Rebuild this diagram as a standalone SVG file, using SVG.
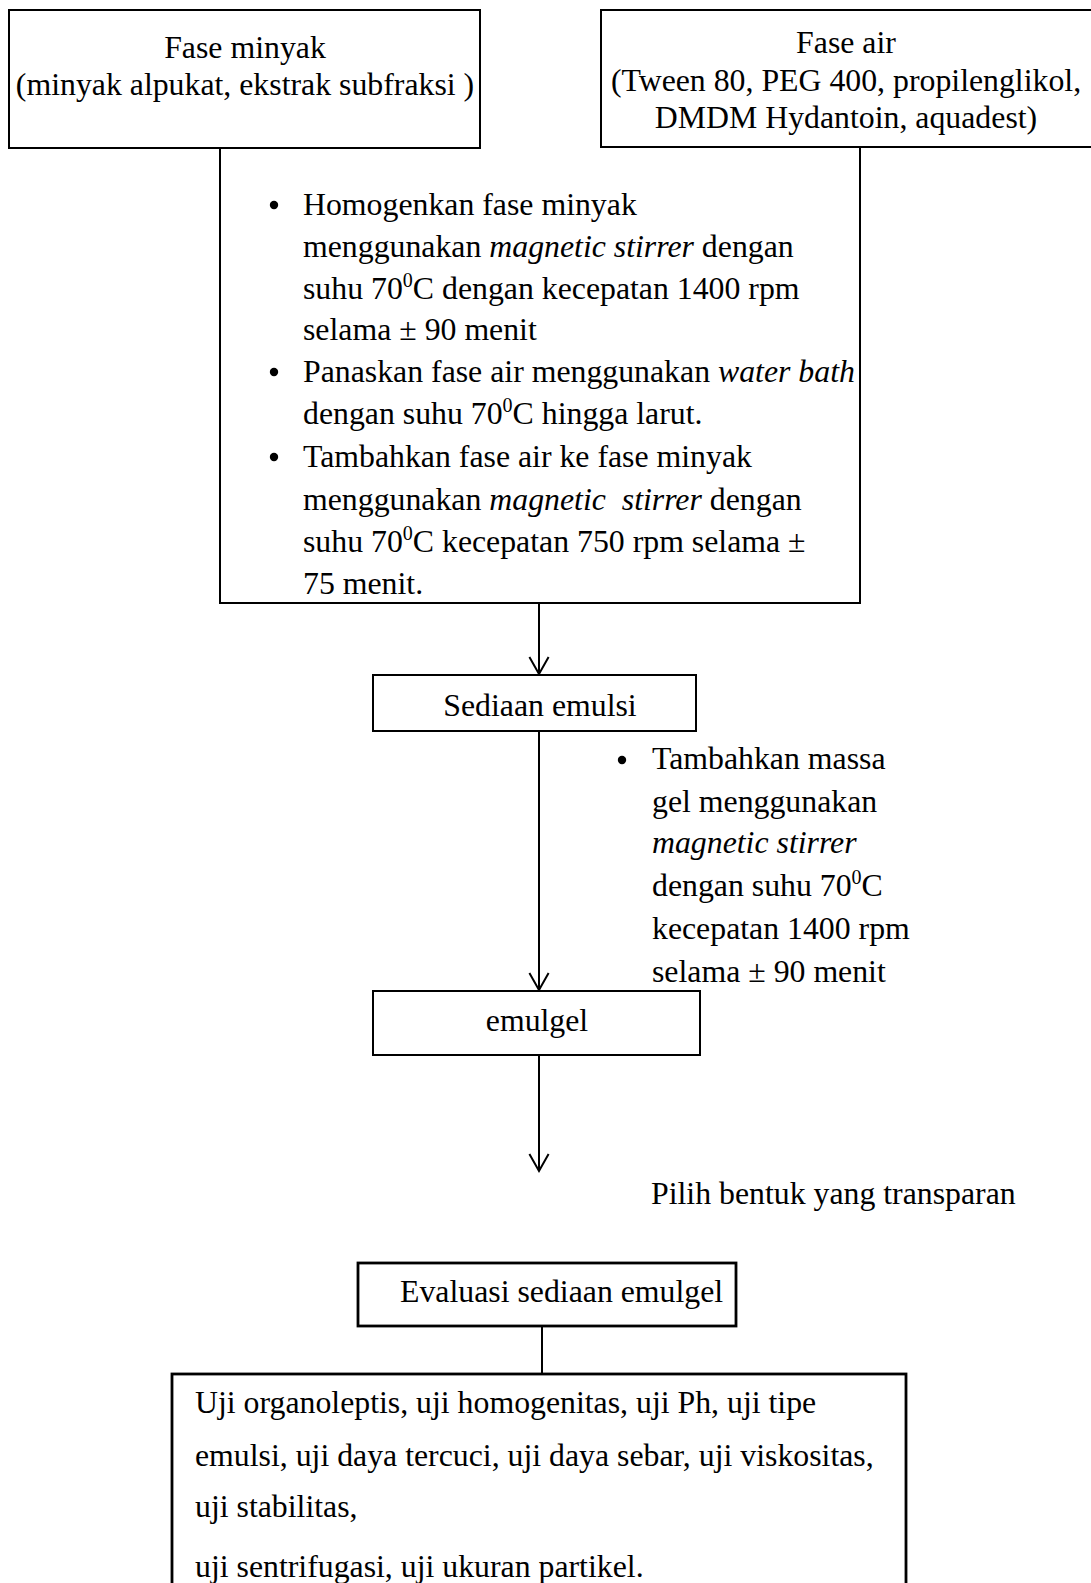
<svg xmlns="http://www.w3.org/2000/svg" width="1091" height="1583" viewBox="0 0 1091 1583">
  <style>
    text { font-family: "Liberation Serif", "Times New Roman", serif; font-size: 31.8px; fill: #000; }
    .c { text-anchor: middle; }
    .i { font-style: italic; }
    .box { fill: #fff; stroke: #000; stroke-width: 2; }
    .thick { stroke-width: 2.8; }
    .ln { fill: none; stroke: #000; stroke-width: 2; }
    .sup { font-size: 20px; }
  </style>
  <defs>
    <marker id="vhead" markerUnits="userSpaceOnUse" viewBox="-20 -12 22 24" markerWidth="22" markerHeight="24" refX="0" refY="0" orient="auto" overflow="visible">
      <path d="M-17,-9.6 L0,0 L-17,9.6" fill="none" stroke="#000" stroke-width="2"/>
    </marker>
  </defs>
  <rect width="1091" height="1583" fill="#fff"/>

  <!-- connectors -->
  <g id="connectors">
    <!-- process frame hanging under the two phase boxes -->
    <path class="ln" d="M220,148 V603 H860 V147" stroke-width="1.8"/>
    <line class="ln" x1="539" y1="603" x2="539" y2="674" marker-end="url(#vhead)"/>
    <line class="ln" x1="539" y1="731" x2="539" y2="990" marker-end="url(#vhead)"/>
    <line class="ln" x1="539" y1="1055" x2="539" y2="1171" marker-end="url(#vhead)"/>
    <line class="ln" x1="542" y1="1326" x2="542" y2="1374" stroke-width="1.5"/>
  </g>

  <g id="fase-minyak">
    <rect class="box" x="9" y="10" width="471" height="138"/>
    <text class="c" x="245" y="58">Fase minyak</text>
    <text class="c" x="245" y="95">(minyak alpukat, ekstrak subfraksi )</text>
  </g>

  <g id="fase-air">
    <rect class="box" x="601" y="10" width="500" height="137"/>
    <text class="c" x="846" y="53">Fase air</text>
    <text class="c" x="846" y="91">(Tween 80, PEG 400, propilenglikol,</text>
    <text class="c" x="846" y="128">DMDM Hydantoin, aquadest)</text>
  </g>

  <g id="langkah-pencampuran">
    <circle cx="274" cy="205" r="4.2"/>
    <circle cx="274" cy="372" r="4.2"/>
    <circle cx="274" cy="457" r="4.2"/>
    <text x="303" y="215">Homogenkan fase minyak</text>
    <text x="303" y="257">menggunakan <tspan class="i">magnetic stirrer</tspan> dengan</text>
    <text x="303" y="299">suhu 70<tspan class="sup" dy="-12">0</tspan><tspan dy="12">C dengan kecepatan 1400 rpm</tspan></text>
    <text x="303" y="340">selama ± 90 menit</text>
    <text x="303" y="382">Panaskan fase air menggunakan <tspan class="i">water bath</tspan></text>
    <text x="303" y="424">dengan suhu 70<tspan class="sup" dy="-12">0</tspan><tspan dy="12">C hingga larut.</tspan></text>
    <text x="303" y="467">Tambahkan fase air ke fase minyak</text>
    <text x="303" y="510">menggunakan <tspan class="i">magnetic&#160; stirrer</tspan> dengan</text>
    <text x="303" y="552">suhu 70<tspan class="sup" dy="-12">0</tspan><tspan dy="12">C kecepatan 750 rpm selama ±</tspan></text>
    <text x="303" y="594">75 menit.</text>
  </g>

  <g id="sediaan-emulsi">
    <rect class="box" x="373" y="675" width="323" height="56"/>
    <text class="c" x="540" y="716">Sediaan emulsi</text>
  </g>

  <g id="langkah-gel">
    <circle cx="622" cy="760" r="4.2"/>
    <text x="652" y="769">Tambahkan massa</text>
    <text x="652" y="812">gel menggunakan</text>
    <text x="652" y="853" class="i">magnetic stirrer</text>
    <text x="652" y="896">dengan suhu 70<tspan class="sup" dy="-12">0</tspan><tspan dy="12">C</tspan></text>
    <text x="652" y="939">kecepatan 1400 rpm</text>
    <text x="652" y="982">selama ± 90 menit</text>
  </g>

  <g id="emulgel">
    <rect class="box" x="373" y="991" width="327" height="64" stroke-width="2.4"/>
    <text class="c" x="537" y="1031">emulgel</text>
  </g>

  <g id="pilih-transparan">
    <text x="651" y="1204">Pilih bentuk yang transparan</text>
  </g>

  <g id="evaluasi">
    <rect class="box thick" x="358" y="1263" width="378" height="63"/>
    <text x="400" y="1302">Evaluasi sediaan emulgel</text>
  </g>

  <g id="uji">
    <rect class="box thick" x="172" y="1374" width="734" height="240"/>
    <text x="195" y="1413">Uji organoleptis, uji homogenitas, uji Ph, uji tipe</text>
    <text x="195" y="1466">emulsi, uji daya tercuci, uji daya sebar, uji viskositas,</text>
    <text x="195" y="1517">uji stabilitas,</text>
    <text x="195" y="1577">uji sentrifugasi, uji ukuran partikel.</text>
  </g>
</svg>
